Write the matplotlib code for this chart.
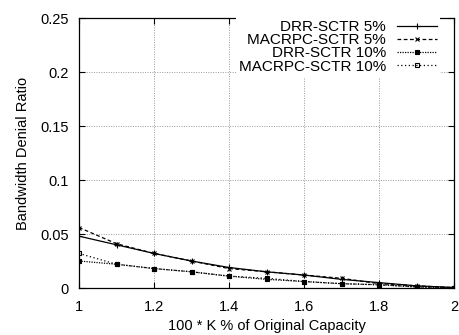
import matplotlib
matplotlib.use("Agg")
import matplotlib.pyplot as plt

plt.rcParams['font.family'] = ['Liberation Sans', 'DejaVu Sans']

x = [1.0, 1.1, 1.2, 1.3, 1.4, 1.5, 1.6, 1.7, 1.8, 1.9, 2.0]
drr5 = [0.048, 0.040, 0.032, 0.025, 0.019, 0.015, 0.012, 0.008, 0.005, 0.002, 0.0005]
mac5 = [0.056, 0.041, 0.032, 0.025, 0.018, 0.015, 0.012, 0.009, 0.004, 0.002, 0.0003]
drr10 = [0.025, 0.022, 0.018, 0.015, 0.011, 0.008, 0.006, 0.004, 0.003, 0.001, 0.0002]
mac10 = [0.032, 0.022, 0.018, 0.015, 0.011, 0.009, 0.006, 0.004, 0.003, 0.001, 0.0002]
labels = ["DRR-SCTR 5%", "MACRPC-SCTR 5%", "DRR-SCTR 10%", "MACRPC-SCTR 10%"]
xticks = [1, 1.2, 1.4, 1.6, 1.8, 2]
xticklabels = ["1", "1.2", "1.4", "1.6", "1.8", "2"]
yticks = [0, 0.05, 0.1, 0.15, 0.2, 0.25]
yticklabels = ["0", "0.05", "0.1", "0.15", "0.2", "0.25"]

fig = plt.figure(figsize=(4.59, 3.35), dpi=100)
ax = fig.add_axes([79/459, 1-288/335, (454-79)/459, (288-18)/335])

ax.plot(x, drr5, color='black', lw=0.9, ls='-', marker='+', ms=5, mew=0.8, label=labels[0])
ax.plot(x, mac5, color='black', lw=0.9, ls=(0, (3, 2)), marker='x', ms=3.5, mew=0.8, label=labels[1])
ax.plot(x, drr10, color='black', lw=0.9, ls=(0, (1, 1)), marker='s', ms=3.5, mfc='black', mew=0.8, label=labels[2])
ax.plot(x, mac10, color='black', lw=0.9, ls=(0, (1, 2)), marker='s', ms=3.5, mfc='none', mew=0.8, label=labels[3])

ax.set_xlim(1, 2)
ax.set_ylim(0, 0.25)
ax.set_xticks(xticks)
ax.set_xticklabels(xticklabels)
ax.set_yticks(yticks)
ax.set_yticklabels(yticklabels)
ax.tick_params(direction='in', top=True, right=True, labelsize=10.5, length=4, width=0.8)
ax.tick_params(axis='x', pad=8.5)
ax.tick_params(axis='y', pad=7.5)
ax.grid(True, color='#999999', ls=(0, (1, 1.5)), lw=0.7)
for s in ax.spines.values():
    s.set_linewidth(0.9)

ax.set_xlabel("100 * K % of Original Capacity", fontsize=10.5, labelpad=4)
ax.set_ylabel("Bandwidth Denial Ratio", fontsize=10.5, labelpad=7)

leg = ax.legend(loc='upper right', markerfirst=False, fontsize=11, frameon=True,
                handlelength=2.6, handletextpad=0.75, labelspacing=-0.05,
                borderaxespad=0.0, borderpad=0.2, fancybox=False,
                bbox_to_anchor=(0.963, 1.004))
leg.get_frame().set_edgecolor('none')
leg.get_frame().set_facecolor('white')
leg.get_frame().set_alpha(1)
for t in leg.get_texts():
    t.set_ha('right')
leg._legend_box.align = "right"

fig.savefig("out.png", dpi=100)
